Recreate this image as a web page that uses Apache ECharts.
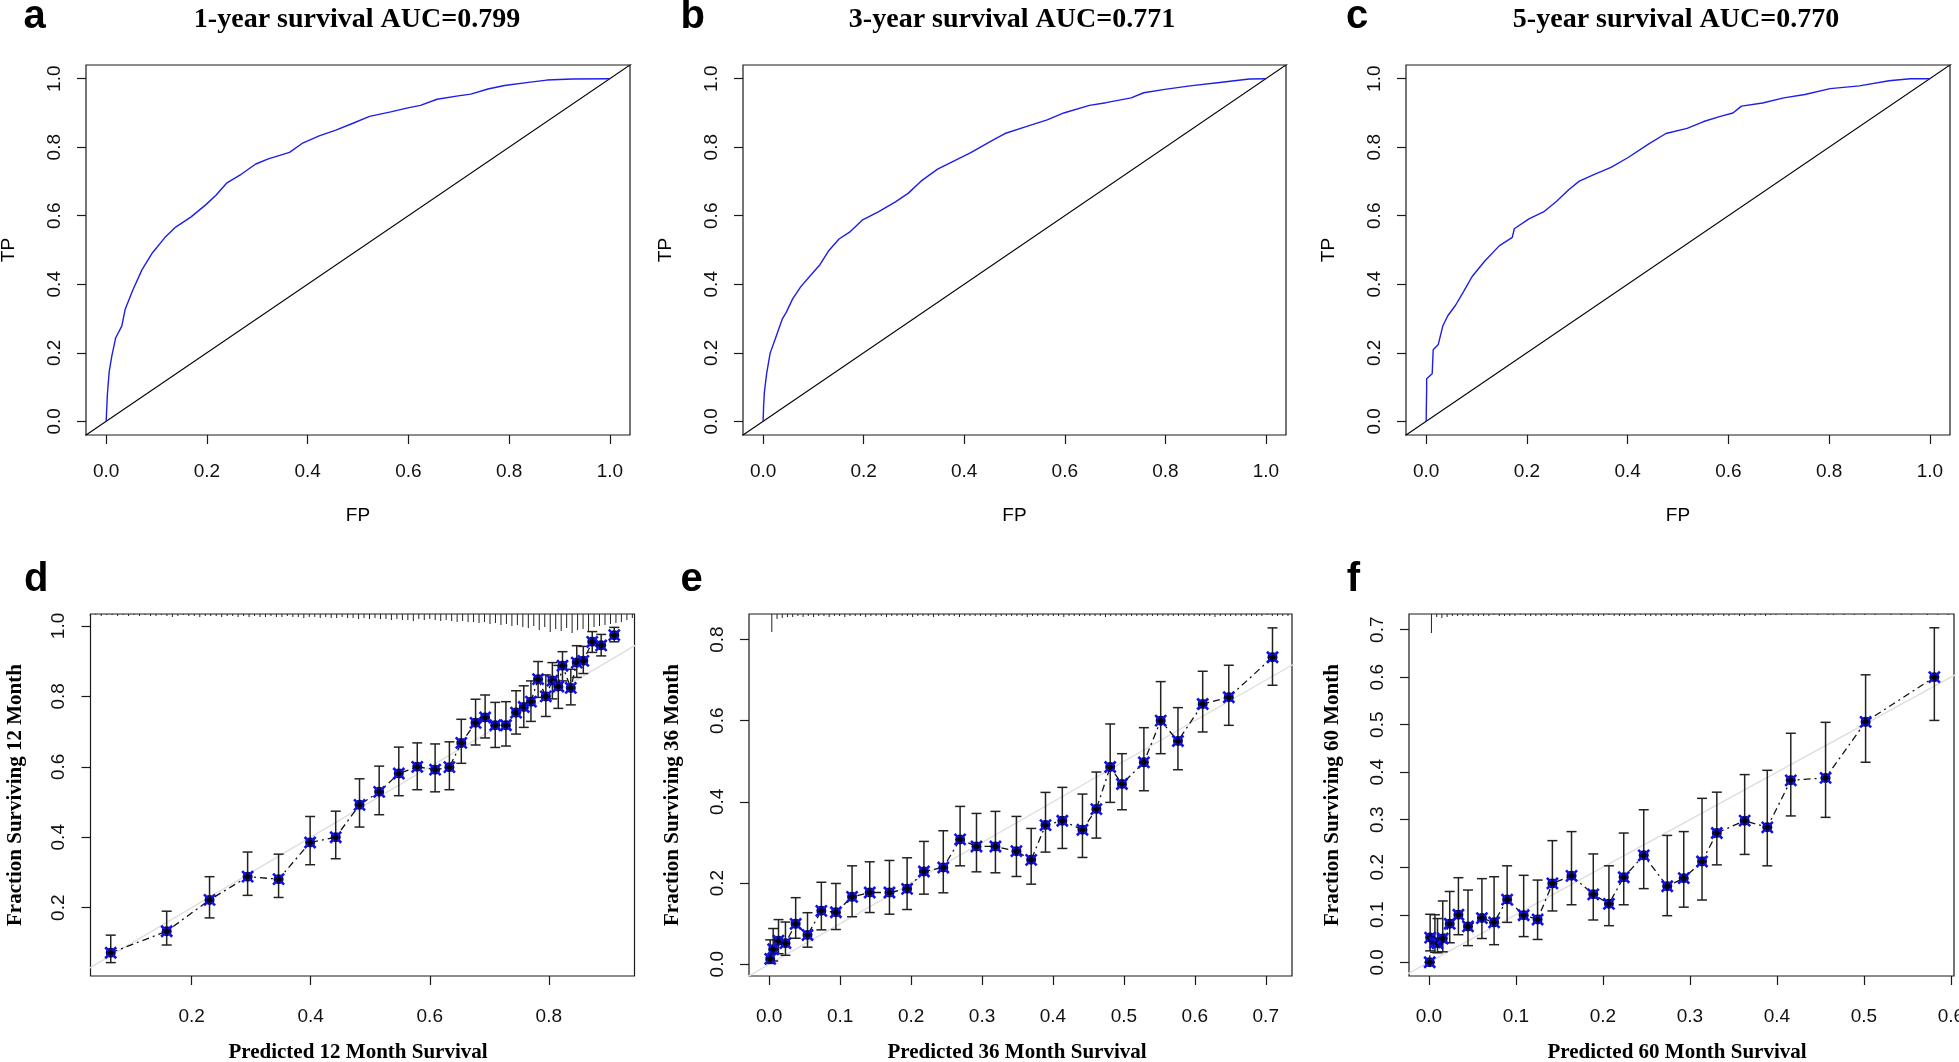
<!DOCTYPE html>
<html><head><meta charset="utf-8">
<script src="https://cdn.jsdelivr.net/npm/echarts@6/dist/echarts.min.js"></script>
<style>html,body{margin:0;padding:0;background:#fff}#c{width:1959px;height:1062px}</style>
</head><body><div id="c"></div>
<script>
// ---------------- DATA ----------------
// ROC curves (FP, TP)
const fpA = [0, 0, 0.0025, 0.006, 0.011, 0.019, 0.031, 0.038, 0.053, 0.071, 0.092, 0.117, 0.138, 0.168, 0.197, 0.218, 0.239, 0.268, 0.297, 0.322, 0.364, 0.389, 0.423, 0.456, 0.49, 0.523, 0.565, 0.599, 0.624, 0.657, 0.699, 0.724, 0.758, 0.791, 0.842, 0.875, 0.925, 1];
const tpA = [0, 0.005, 0.0795, 0.144, 0.189, 0.244, 0.278, 0.328, 0.383, 0.442, 0.492, 0.537, 0.567, 0.596, 0.631, 0.66, 0.695, 0.721, 0.751, 0.766, 0.785, 0.811, 0.833, 0.85, 0.87, 0.89, 0.903, 0.915, 0.922, 0.94, 0.95, 0.955, 0.97, 0.98, 0.99, 0.996, 0.999, 1];
const fpB = [0, 0.001, 0.0025, 0.007, 0.014, 0.025, 0.038, 0.046, 0.059, 0.075, 0.092, 0.113, 0.13, 0.151, 0.172, 0.197, 0.23, 0.264, 0.289, 0.314, 0.347, 0.381, 0.414, 0.456, 0.481, 0.523, 0.565, 0.598, 0.649, 0.682, 0.732, 0.757, 0.799, 0.849, 0.908, 0.967, 1];
const tpB = [0, 0.045, 0.0845, 0.139, 0.199, 0.244, 0.298, 0.318, 0.358, 0.393, 0.422, 0.457, 0.497, 0.532, 0.552, 0.587, 0.612, 0.641, 0.666, 0.701, 0.736, 0.761, 0.785, 0.82, 0.84, 0.86, 0.88, 0.9, 0.922, 0.93, 0.944, 0.959, 0.969, 0.979, 0.989, 0.999, 1];
const fpC = [0, 0.001, 0.001, 0.012, 0.014, 0.024, 0.033, 0.043, 0.058, 0.074, 0.091, 0.116, 0.145, 0.171, 0.175, 0.204, 0.233, 0.258, 0.283, 0.304, 0.334, 0.367, 0.401, 0.442, 0.476, 0.518, 0.551, 0.584, 0.609, 0.626, 0.668, 0.71, 0.752, 0.802, 0.86, 0.919, 0.961, 1];
const tpC = [0, 0.094, 0.124, 0.139, 0.209, 0.224, 0.278, 0.308, 0.338, 0.378, 0.422, 0.467, 0.512, 0.537, 0.562, 0.591, 0.611, 0.641, 0.676, 0.701, 0.721, 0.741, 0.77, 0.81, 0.84, 0.855, 0.875, 0.89, 0.9, 0.92, 0.929, 0.944, 0.954, 0.971, 0.979, 0.994, 1.0, 1];

// Calibration, 12 month
const xD  = [0.064, 0.158, 0.230, 0.294, 0.346, 0.399, 0.442, 0.482, 0.515, 0.548, 0.579, 0.609, 0.633, 0.653, 0.677, 0.693, 0.710, 0.728, 0.745, 0.758, 0.770, 0.782, 0.795, 0.806, 0.816, 0.823, 0.837, 0.847, 0.858, 0.873, 0.888, 0.910];
const yD  = [0.072, 0.133, 0.222, 0.288, 0.281, 0.385, 0.400, 0.492, 0.529, 0.581, 0.600, 0.592, 0.599, 0.668, 0.725, 0.740, 0.718, 0.718, 0.754, 0.770, 0.785, 0.849, 0.800, 0.845, 0.828, 0.887, 0.824, 0.896, 0.901, 0.955, 0.945, 0.974];
const loD = [0.044, 0.094, 0.171, 0.235, 0.229, 0.322, 0.339, 0.429, 0.464, 0.518, 0.535, 0.529, 0.535, 0.610, 0.662, 0.682, 0.655, 0.659, 0.693, 0.712, 0.729, 0.797, 0.743, 0.793, 0.766, 0.844, 0.776, 0.854, 0.865, 0.925, 0.915, 0.955];
const hiD = [0.122, 0.190, 0.288, 0.358, 0.352, 0.459, 0.474, 0.566, 0.602, 0.656, 0.668, 0.665, 0.671, 0.735, 0.792, 0.804, 0.783, 0.785, 0.816, 0.830, 0.844, 0.899, 0.861, 0.896, 0.888, 0.927, 0.877, 0.944, 0.942, 0.984, 0.976, 0.996];

// Calibration, 36 month
const xE  = [0.0014, 0.0056, 0.0131, 0.0229, 0.0373, 0.054, 0.0735, 0.094, 0.1168, 0.1417, 0.1695, 0.1944, 0.2181, 0.2454, 0.2691, 0.2922, 0.3189, 0.3485, 0.3693, 0.3895, 0.4132, 0.4416, 0.4612, 0.4807, 0.4973, 0.5282, 0.5519, 0.5762, 0.6111, 0.6479, 0.7095];
const yE  = [0.013, 0.037, 0.058, 0.052, 0.0995, 0.072, 0.1316, 0.128, 0.166, 0.1768, 0.1768, 0.1858, 0.2286, 0.2384, 0.3075, 0.2902, 0.2902, 0.2787, 0.2573, 0.3429, 0.3535, 0.3314, 0.3823, 0.4859, 0.444, 0.4974, 0.6002, 0.55, 0.6413, 0.6578, 0.7564];
const hiE = [0.060, 0.088, 0.11, 0.104, 0.164, 0.127, 0.202, 0.199, 0.2425, 0.2524, 0.2557, 0.2623, 0.3026, 0.3289, 0.3889, 0.3716, 0.3766, 0.3642, 0.3346, 0.4234, 0.4358, 0.4193, 0.4736, 0.592, 0.5188, 0.5829, 0.6964, 0.6323, 0.7219, 0.7367, 0.8288];
const loE = [0.002, 0.008, 0.026, 0.022, 0.064, 0.042, 0.0847, 0.0855, 0.117, 0.1274, 0.1233, 0.1348, 0.1727, 0.176, 0.2425, 0.2277, 0.2253, 0.2162, 0.1973, 0.2763, 0.2853, 0.2631, 0.3108, 0.3988, 0.3807, 0.4275, 0.5188, 0.4793, 0.5723, 0.5887, 0.6874];

// Calibration, 60 month
const xF  = [0.001, 0.0015, 0.007, 0.010, 0.016, 0.024, 0.034, 0.045, 0.061, 0.075, 0.090, 0.109, 0.125, 0.142, 0.164, 0.189, 0.207, 0.224, 0.247, 0.274, 0.293, 0.314, 0.331, 0.363, 0.389, 0.416, 0.456, 0.502, 0.581];
const yF  = [0.0, 0.052, 0.042, 0.040, 0.050, 0.081, 0.100, 0.0755, 0.093, 0.084, 0.132, 0.099, 0.090, 0.166, 0.182, 0.143, 0.123, 0.179, 0.225, 0.160, 0.177, 0.212, 0.272, 0.298, 0.284, 0.383, 0.388, 0.506, 0.600];
const loF = [0.0, 0.024, 0.021, 0.020, 0.022, 0.041, 0.058, 0.035, 0.050, 0.037, 0.084, 0.054, 0.048, 0.108, 0.121, 0.089, 0.077, 0.121, 0.155, 0.098, 0.116, 0.131, 0.205, 0.227, 0.203, 0.308, 0.305, 0.421, 0.509];
const hiF = [0.0, 0.101, 0.100, 0.092, 0.129, 0.149, 0.178, 0.152, 0.176, 0.180, 0.203, 0.183, 0.173, 0.256, 0.275, 0.228, 0.203, 0.272, 0.321, 0.267, 0.275, 0.345, 0.358, 0.395, 0.404, 0.482, 0.505, 0.605, 0.704];

// Spike histograms of predicted values (100 equal bins over range; spike length)
const spikeRangeD = [0.025, 0.945];
const spikeD = [2,1,2,1,1,2,1,2,1,2, 1,2,2,1,2,3,2,1,2,2, 3,2,2,2,3,2,2,3,2,3, 2,3,3,2,3,3,2,3,3,4, 3,3,4,3,4,4,3,4,4,5, 4,5,4,5,5,6,5,6,6,7, 5,6,5,6,7,6,7,8,7,8, 8,9,8,10,9,11,10,12,11,13, 14,12,16,13,18,15,17,14,19,16, 15,17,13,12,11,10,9,8,6,4];
const spikeRangeE = [0.0, 0.735];
const spikeE = [18,5,4,3,3,2,3,2,3,2, 2,3,2,2,3,2,2,2,3,2, 2,2,3,2,2,2,2,3,2,2, 2,3,2,2,2,2,3,2,2,2, 2,2,2,3,2,2,2,2,2,3, 2,2,2,2,2,2,3,2,2,2, 2,2,2,2,3,2,2,2,2,2, 2,2,2,2,2,2,2,2,2,2, 2,2,2,2,2,3,2,2,2,2, 2,2,2,2,2,1,2,2,2,2];
const spikeRangeF = [0.0, 0.60];
const spikeF = [19,3,4,3,2,2,2,2,2,2, 2,2,1,2,2,2,2,1,2,2, 2,2,2,1,2,2,2,2,1,2, 2,2,2,2,1,2,2,2,2,2, 1,2,2,2,2,1,2,2,2,2, 2,1,2,2,2,1,2,2,1,2, 2,1,2,1,2,1,1,0,1,1, 0,1,1,0,1,0,1,1,0,1, 0,1,0,1,0,1,0,0,1,0, 1,0,1,0,0,1,0,1,0,1];

// Tick values
const ticksROC = [0, 0.2, 0.4, 0.6, 0.8, 1.0];
const ticksDx = [0.2, 0.4, 0.6, 0.8];
const ticksDy = [0.2, 0.4, 0.6, 0.8, 1.0];
const ticksEx = [0, 0.1, 0.2, 0.3, 0.4, 0.5, 0.6, 0.7];
const ticksEy = [0, 0.2, 0.4, 0.6, 0.8];
const ticksFx = [0, 0.1, 0.2, 0.3, 0.4, 0.5, 0.6];
const ticksFy = [0, 0.1, 0.2, 0.3, 0.4, 0.5, 0.6, 0.7];

// Texts
const titles = ['1-year survival AUC=0.799', '3-year survival AUC=0.771', '5-year survival AUC=0.770'];
const letters = ['a', 'b', 'c', 'd', 'e', 'f'];
const calYTitles = ['Fraction Surviving 12 Month', 'Fraction Surviving 36 Month', 'Fraction Surviving 60 Month'];
const calXTitles = ['Predicted 12 Month Survival', 'Predicted 36 Month Survival', 'Predicted 60 Month Survival'];

// ---------------- LAYOUT / STYLE ----------------
const SANS = '"Liberation Sans", Arial, sans-serif';
const SERIF = '"Liberation Serif", "Times New Roman", serif';
const boxes = [
  {left: 86,   top: 65,  width: 544, height: 370},
  {left: 743,  top: 65,  width: 543, height: 370},
  {left: 1406, top: 65,  width: 544, height: 370},
  {left: 90.5, top: 614, width: 544, height: 362},
  {left: 749,  top: 614, width: 543, height: 362},
  {left: 1409, top: 614, width: 545, height: 362}
];
const ranges = [
  {x: [-0.04, 1.04], y: [-0.04, 1.04], xt: ticksROC, yt: ticksROC},
  {x: [-0.04, 1.04], y: [-0.04, 1.04], xt: ticksROC, yt: ticksROC},
  {x: [-0.04, 1.04], y: [-0.04, 1.04], xt: ticksROC, yt: ticksROC},
  {x: [0.030, 0.944], y: [0.006, 1.034], xt: ticksDx, yt: ticksDy},
  {x: [-0.0285, 0.737], y: [-0.029, 0.863], xt: ticksEx, yt: ticksEy},
  {x: [-0.0228, 0.6036], y: [-0.0289, 0.733], xt: ticksFx, yt: ticksFy}
];
const titleX = [357, 1012, 1676];
const letterPos = [[34.5, 16.5], [692.6, 16.5], [1357, 16.5], [36.2, 580], [691.6, 580], [1353.5, 580]];
const calXTitleX = [358, 1017, 1677];
const calYTitleX = [15.6, 672.6, 1332.8];

const zip = (a, b) => a.map((v, i) => [v, b[i]]);
const fmt = v => v.toFixed(1);

const grids = [], xAxes = [], yAxes = [], series = [], graphics = [];
boxes.forEach((b, i) => {
  grids.push(Object.assign({show: true, borderColor: '#1a1a1a', borderWidth: 1.2, backgroundColor: 'transparent', containLabel: false, outerBoundsMode: 'none'}, b));
  const r = ranges[i];
  const top = i < 3;
  xAxes.push({
    gridIndex: i, type: 'value', min: r.x[0], max: r.x[1],
    axisLine: {show: false, onZero: false},
    splitLine: {show: false},
    axisTick: {show: true, length: 9, lineStyle: {color: '#1a1a1a', width: 1.2}, customValues: r.xt},
    axisLabel: {show: true, customValues: r.xt, formatter: fmt, margin: top ? 27 : 31,
      fontFamily: SANS, fontSize: 19, color: '#111'}
  });
  yAxes.push({
    gridIndex: i, type: 'value', min: r.y[0], max: r.y[1],
    axisLine: {show: false, onZero: false},
    splitLine: {show: false},
    axisTick: {show: true, length: 9, lineStyle: {color: '#1a1a1a', width: 1.2}, customValues: r.yt},
    axisLabel: {show: true, customValues: r.yt, formatter: fmt, rotate: 90, margin: 22,
      fontFamily: SANS, fontSize: 19, color: '#111'}
  });
});

// ROC panels
const rocData = [zip(fpA, tpA), zip(fpB, tpB), zip(fpC, tpC)];
rocData.forEach((d, i) => {
  series.push({type: 'line', xAxisIndex: i, yAxisIndex: i, data: [[-1, -1], [2, 2]], symbol: 'none', clip: true,
    lineStyle: {color: '#000', width: 1.2}, silent: true, z: 2});
  series.push({type: 'line', xAxisIndex: i, yAxisIndex: i, data: d, symbol: 'none', clip: true,
    lineStyle: {color: '#1e1ee8', width: 1.4}, silent: true, z: 3});
});

// Calibration panels
function errRender(params, api) {
  const x = api.value(0), lo = api.value(1), hi = api.value(2);
  const p1 = api.coord([x, lo]), p2 = api.coord([x, hi]);
  const cw = 5, st = {stroke: '#222', lineWidth: 1.5};
  return {type: 'group', children: [
    {type: 'line', shape: {x1: p1[0], y1: p1[1], x2: p2[0], y2: p2[1]}, style: st},
    {type: 'line', shape: {x1: p1[0] - cw, y1: p1[1], x2: p1[0] + cw, y2: p1[1]}, style: st},
    {type: 'line', shape: {x1: p2[0] - cw, y1: p2[1], x2: p2[0] + cw, y2: p2[1]}, style: st}
  ]};
}
function markRender(params, api) {
  const p = api.coord([api.value(0), api.value(1)]);
  const s = 5.5, st = {stroke: '#1010e8', lineWidth: 2.6};
  return {type: 'group', children: [
    {type: 'circle', shape: {cx: p[0], cy: p[1], r: 5}, style: {fill: '#0a0a5a'}},
    {type: 'line', shape: {x1: p[0] - s, y1: p[1] - s, x2: p[0] + s, y2: p[1] + s}, style: st},
    {type: 'line', shape: {x1: p[0] - s, y1: p[1] + s, x2: p[0] + s, y2: p[1] - s}, style: st},
    {type: 'circle', shape: {cx: p[0], cy: p[1], r: 2.6}, style: {fill: '#000'}}
  ]};
}
function spikeRender(ymax) {
  return function (params, api) {
    const p = api.coord([api.value(0), ymax]);
    const h = api.value(1);
    return {type: 'line', shape: {x1: p[0], y1: p[1], x2: p[0], y2: p[1] + h}, style: {stroke: '#222', lineWidth: 1}};
  };
}
const cal = [
  {x: xD, y: yD, lo: loD, hi: hiD, sp: spikeD, sr: spikeRangeD},
  {x: xE, y: yE, lo: loE, hi: hiE, sp: spikeE, sr: spikeRangeE},
  {x: xF, y: yF, lo: loF, hi: hiF, sp: spikeF, sr: spikeRangeF}
];
cal.forEach((c, k) => {
  const i = k + 3;
  const ymax = ranges[i].y[1];
  const n = c.sp.length, w = (c.sr[1] - c.sr[0]) / n;
  const spikeData = c.sp.map((h, j) => [c.sr[0] + w * (j + 0.5), h]);
  series.push({type: 'line', xAxisIndex: i, yAxisIndex: i, data: [[-1, -1], [2, 2]], symbol: 'none', clip: true,
    lineStyle: {color: '#e0e0e0', width: 1.5}, silent: true, z: 1});
  series.push({type: 'line', xAxisIndex: i, yAxisIndex: i, data: zip(c.x, c.y), symbol: 'none', clip: true,
    lineStyle: {color: '#111', width: 1.3, type: [7, 4, 2, 4]}, silent: true, z: 2});
  series.push({type: 'custom', xAxisIndex: i, yAxisIndex: i, renderItem: errRender,
    data: c.x.map((x, j) => [x, c.lo[j], c.hi[j]]), encode: {x: 0, y: [1, 2]}, silent: true, z: 3});
  series.push({type: 'custom', xAxisIndex: i, yAxisIndex: i, renderItem: markRender,
    data: zip(c.x, c.y), encode: {x: 0, y: 1}, silent: true, z: 4});
  series.push({type: 'custom', xAxisIndex: i, yAxisIndex: i, renderItem: spikeRender(ymax),
    data: spikeData, encode: {x: 0}, silent: true, z: 3, clip: false});
});

// Text
function txt(text, x, y, font, rot) {
  graphics.push({type: 'text', x: x, y: y, rotation: rot || 0, silent: true,
    style: {text: text, font: font, fill: '#000', align: 'center', verticalAlign: 'middle'}});
}
titles.forEach((t, i) => txt(t, titleX[i], 20, 'bold 28px ' + SERIF));
letters.forEach((l, i) => txt(l, letterPos[i][0], letterPos[i][1], 'bold 40px ' + SANS));
for (let i = 0; i < 3; i++) {
  const b = boxes[i];
  txt('FP', b.left + b.width / 2, 516, '19px ' + SANS);
  txt('TP', b.left - 77, b.top + b.height / 2, '19px ' + SANS, Math.PI / 2);
}
for (let k = 0; k < 3; k++) {
  const b = boxes[k + 3];
  txt(calXTitles[k], calXTitleX[k], 1053, 'bold 21px ' + SERIF);
  txt(calYTitles[k], calYTitleX[k], b.top + b.height / 2, 'bold 21px ' + SERIF, Math.PI / 2);
}

const chart = echarts.init(document.getElementById('c'), null, {renderer: 'canvas'});
chart.setOption({
  animation: false,
  backgroundColor: '#fff',
  grid: grids, xAxis: xAxes, yAxis: yAxes, series: series,
  graphic: graphics
});
</script></body></html>
